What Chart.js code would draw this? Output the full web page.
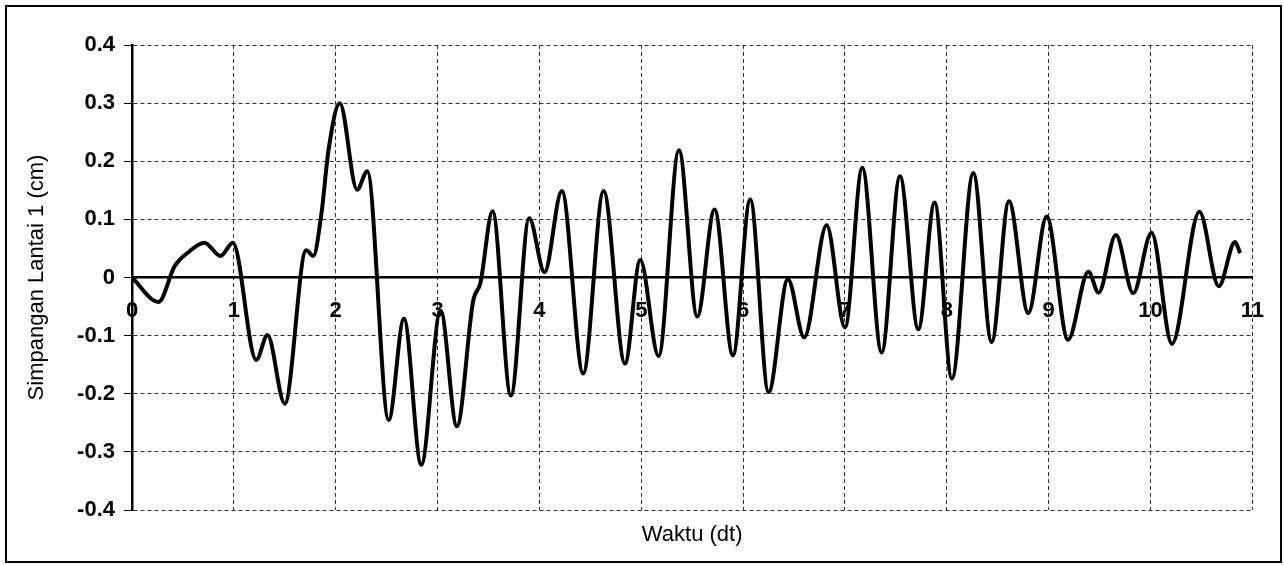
<!DOCTYPE html>
<html>
<head>
<meta charset="utf-8">
<script src="https://cdn.jsdelivr.net/npm/chart.js@4/dist/chart.umd.min.js"></script>
<style>
    body { margin: 0; background: #fff; }
</style>
</head>
<body>
<canvas id="lineChart" width="1284" height="565"></canvas>
<script>
let times = [0, 0.26, 0.42, 0.55, 0.71, 0.87, 0.99, 1.22, 1.33, 1.50, 1.71, 1.78, 1.86, 1.93, 2.04,
    2.21, 2.31, 2.52, 2.67, 2.84, 3.03, 3.19, 3.35, 3.42, 3.54, 3.72, 3.90, 4.05, 4.22, 4.43,
    4.63, 4.84, 4.99, 5.17, 5.37, 5.55, 5.72, 5.90, 6.07, 6.25, 6.44, 6.60, 6.82, 7.00, 7.17,
    7.36, 7.54, 7.72, 7.88, 8.05, 8.26, 8.44, 8.61, 8.80, 8.98, 9.19, 9.39, 9.49, 9.66, 9.83,
    10.01, 10.21, 10.48, 10.67, 10.83, 10.88];
let simpangan = [0, -0.042, 0.02, 0.043, 0.06, 0.037, 0.06, -0.142, -0.099, -0.217, 0.047, 0.037, 0.11, 0.22, 0.30,
    0.151, 0.183, -0.245, -0.071, -0.322, -0.057, -0.256, -0.04, -0.01, 0.114, -0.203, 0.102, 0.009, 0.149, -0.165,
    0.149, -0.148, 0.030, -0.135, 0.219, -0.067, 0.117, -0.134, 0.134, -0.197, -0.003, -0.103, 0.090, -0.086, 0.189,
    -0.129, 0.174, -0.089, 0.129, -0.174, 0.180, -0.111, 0.131, -0.061, 0.105, -0.107, 0.010, -0.026, 0.073, -0.027,
    0.077, -0.114, 0.113, -0.015, 0.061, 0.042];

let xTicks = [0, 1, 2, 3, 4, 5, 6, 7, 8, 9, 10, 11];
let yTicks = [-0.4, -0.3, -0.2, -0.1, 0, 0.1, 0.2, 0.3, 0.4];

let fontFamily = "'Liberation Sans', Arial, sans-serif";

let chartFrame = {
    id: 'chartFrame',
    beforeDraw(chart) {
        let ctx = chart.ctx;
        ctx.save();
        ctx.fillStyle = '#fff';
        ctx.fillRect(0, 0, chart.width, chart.height);
        ctx.strokeStyle = '#000';
        ctx.lineWidth = 2;
        ctx.strokeRect(6, 6, 1275, 556);
        ctx.restore();
    }
};

let fromArray = (values) => (scale) => {
    scale.ticks = values.map(v => ({ value: v }));
};

let points = times.map((t, i) => ({ x: t, y: simpangan[i] }));

new Chart(document.getElementById('lineChart').getContext('2d'), {
    type: 'line',
    data: {
        datasets: [{
            data: points,
            borderColor: '#000',
            borderWidth: 4,
            pointRadius: 0,
            fill: false,
            cubicInterpolationMode: 'monotone'
        }]
    },
    options: {
        responsive: false,
        animation: false,
        layout: { padding: { left: 10, right: 27, top: 45, bottom: 10 } },
        plugins: {
            legend: { display: false },
            tooltip: { enabled: false }
        },
        scales: {
            x: {
                type: 'linear',
                position: 'bottom',
                min: 0,
                max: 11,
                afterBuildTicks: fromArray(xTicks),
                afterFit: (s) => { s.height = 45; },
                ticks: { display: false },
                grid: { color: '#333', lineWidth: 1, drawTicks: false },
                border: { display: false, dash: [4, 3] },
                title: {
                    display: true,
                    text: 'Waktu (dt)',
                    color: '#000',
                    font: { family: fontFamily, size: 22 },
                    padding: { top: 0, bottom: 7 }
                }
            },
            x2: {
                type: 'linear',
                position: { y: 0 },
                min: 0,
                max: 11,
                afterBuildTicks: fromArray(xTicks),
                afterFit: (s) => { s.height = 0; },
                ticks: {
                    autoSkip: false,
                    maxRotation: 0,
                    padding: 20,
                    color: '#000',
                    font: { family: fontFamily, size: 22, weight: 'bold' }
                },
                grid: { display: true, drawOnChartArea: false, drawTicks: false },
                border: { display: true, color: '#000', width: 2.5 }
            },
            y: {
                type: 'linear',
                position: 'left',
                min: -0.4,
                max: 0.4,
                afterBuildTicks: fromArray(yTicks),
                afterFit: (s) => { s.width = 122; },
                ticks: {
                    padding: 9,
                    color: '#000',
                    font: { family: fontFamily, size: 22, weight: 'bold' },
                    callback: (v) => Math.abs(v) < 1e-9 ? '0' : v.toFixed(1)
                },
                grid: { color: '#333', lineWidth: 1, tickLength: 8, tickColor: '#000' },
                border: { display: true, color: '#000', width: 2.5, dash: [4, 3] },
                title: {
                    display: true,
                    text: 'Simpangan Lantai 1 (cm)',
                    color: '#000',
                    font: { family: fontFamily, size: 22 },
                    padding: { top: 14, bottom: 0 }
                }
            }
        }
    },
    plugins: [chartFrame]
});
</script>
</body>
</html>
